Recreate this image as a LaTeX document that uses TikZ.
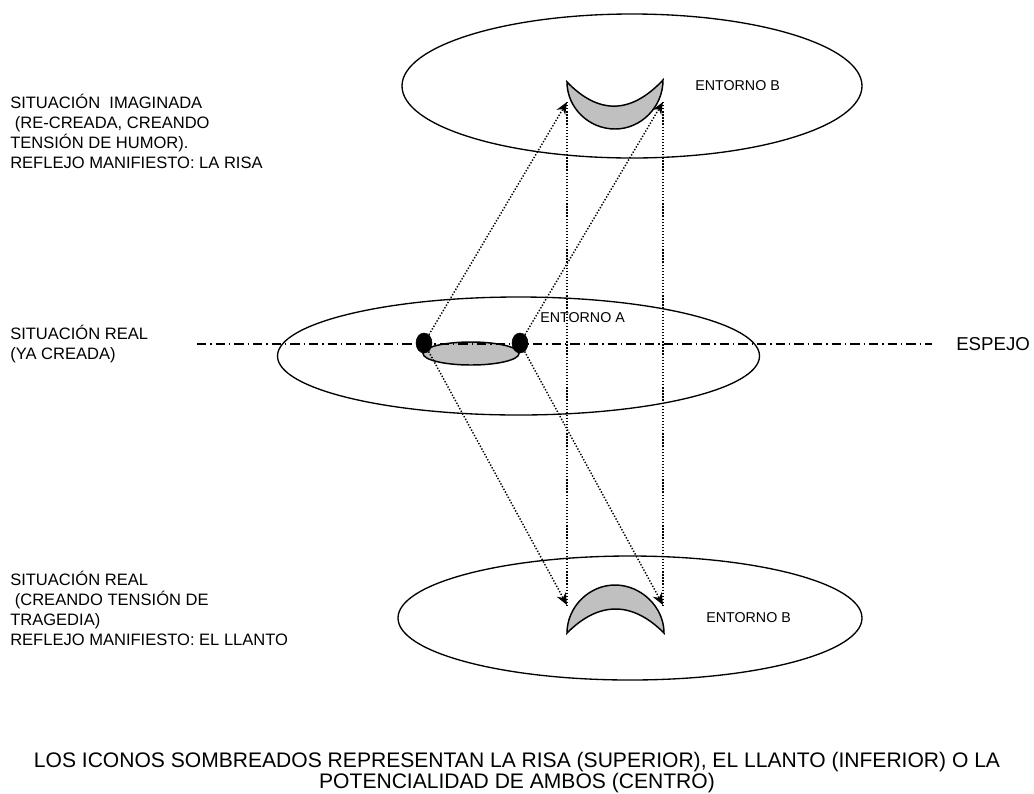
\documentclass[tikz,border=0pt]{standalone}
\usepackage{fontspec}
\setmainfont{Liberation Sans}
\usetikzlibrary{arrows.meta,shapes.geometric}
\definecolor{iconfill}{RGB}{192,192,192}
\begin{document}
\begin{tikzpicture}[
			x=0.75pt, y=-0.75pt,
			entorno/.style={draw, line width=1pt},
			icono/.style={draw, line width=1.1pt, fill=iconfill},
			punto/.style={draw, ellipse, fill=black, minimum width=12pt, minimum height=15pt, inner sep=0pt},
			rayo/.style={line width=1.1pt, dash pattern=on 1pt off 1.3pt},
			flecha/.style={rayo, -{Stealth[length=9pt, width=7.5pt]}},
			espejo/.style={line width=0.9pt, dash pattern=on 7pt off 3pt on 1pt off 3pt},
			rotulo/.style={font=\fontsize{12.4}{15}\selectfont, align=left, anchor=west, inner sep=0pt},
			entornotxt/.style={font=\fontsize{10.7}{13}\selectfont, inner sep=0pt, anchor=west},
		]
		\useasboundingbox (0,0) rectangle (1034,793);

		% entornos
		\draw[entorno] (632,86) ellipse (230 and 72);
		\draw[entorno] (518.5,356) ellipse (241 and 59);
		\draw[entorno] (630,618) ellipse (232 and 62);

		% iconos
		\draw[icono] (567,82) .. controls (567,108) and (589,129) .. (615,129)
			.. controls (641,129) and (663,107) .. (663,80)
			.. controls (631,114) and (599,115) .. (567,82) -- cycle;
		\draw[icono] (567,633) .. controls (567,607) and (589,585) .. (615,585)
			.. controls (641,585) and (664,607) .. (664,633)
			.. controls (632,601) and (599,601) .. (567,633) -- cycle;
		\draw[icono] (471,353.5) ellipse (48 and 11.5);

		\node[punto] (dotL) at (424,343) {};
		\node[punto] (dotR) at (520,343) {};

		\coordinate (topL) at (567,102);
		\coordinate (topR) at (663,102);
		\coordinate (botL) at (567,605);
		\coordinate (botR) at (663,605);

		% reflejos
		\draw[flecha] (dotL) -- (topL);
		\draw[flecha] (dotR) -- (topR);
		\draw[flecha] (dotL) -- (botL);
		\draw[flecha] (dotR) -- (botR);
		\draw[rayo] (topL) -- (botL);
		\draw[rayo] (topR) -- (botR);

		% espejo
		\coordinate (espA) at (197,344);
		\node[entornotxt, font=\fontsize{14}{16}\selectfont] (espejo) at (956,344) {ESPEJO};
		\draw[espejo] (espA) -- ([xshift=-18pt]espejo.west);

		\node[entornotxt] (entB1) at (695,86) {ENTORNO B};
		\node[entornotxt] (entA) at (540,318) {ENTORNO A};
		\node[entornotxt] (entB2) at (706,618) {ENTORNO B};

		\node[rotulo] (imaginada) at (10,131) {SITUACIÓN\ \ IMAGINADA\\\ (RE-CREADA, CREANDO\\TENSIÓN DE HUMOR).\\REFLEJO MANIFIESTO: LA RISA};
		\node[rotulo] (real) at (10,344) {SITUACIÓN REAL\\(YA CREADA)};
		\node[rotulo] (tragedia) at (10,608) {SITUACIÓN REAL\\\ (CREANDO TENSIÓN DE\\TRAGEDIA)\\REFLEJO MANIFIESTO: EL LLANTO};

		\node[rotulo, font=\fontsize{15.8}{14}\selectfont, align=center, anchor=center] (nota) at (517,773) {LOS ICONOS SOMBREADOS REPRESENTAN LA RISA (SUPERIOR), EL LLANTO (INFERIOR) O LA\\POTENCIALIDAD DE AMBOS (CENTRO)};
	\end{tikzpicture}
\end{document}
